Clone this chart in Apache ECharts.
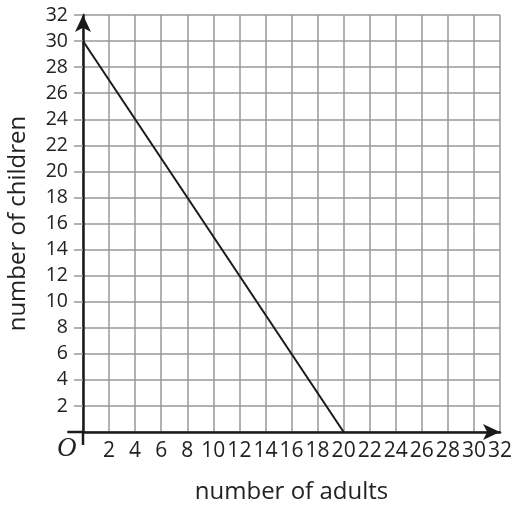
<!DOCTYPE html>
<html><head><meta charset="utf-8">
<script src="https://cdn.jsdelivr.net/npm/echarts@6/dist/echarts.min.js"></script>
<style>html,body{margin:0;padding:0;background:#fff}#c{width:521px;height:508px}</style>
</head><body><div id="c"></div>
<script>
const xTitle = 'number of adults';
const yTitle = 'number of children';
const lineX = [0, 20];
const lineY = [30, 0];
const axisMax = 32;
const tickStep = 2;
const xStub = [[-1.2, 0], [0, 0]];
const yStub = [[0, -1], [0, 0]];

const chart = echarts.init(document.getElementById('c'), null, {renderer: 'canvas'});
const font = '"Open Sans", sans-serif';
const lbl = v => (v === 0 ? '' : String(v));
const axisColor = '#1a1a1a';
chart.setOption({
  animation: false,
  grid: {left: 83, top: 15, width: 417, height: 417, containLabel: false, outerBoundsMode: 'none'},
  xAxis: {
    type: 'value', min: 0, max: axisMax, interval: tickStep,
    name: xTitle, nameLocation: 'middle', nameGap: 48,
    nameTextStyle: {fontFamily: font, fontSize: 24, color: '#222'},
    axisLine: {show: true, lineStyle: {color: axisColor, width: 2.5}, symbol: ['none', 'arrow'], symbolSize: [12, 17]},
    axisTick: {show: false},
    axisLabel: {formatter: lbl, fontFamily: font, fontSize: 21, color: '#222', margin: 9},
    splitLine: {show: true, lineStyle: {color: '#999', width: 1.5}}
  },
  yAxis: {
    type: 'value', min: 0, max: axisMax, interval: tickStep,
    name: yTitle, nameLocation: 'middle', nameGap: 53,
    nameTextStyle: {fontFamily: font, fontSize: 24, color: '#222'},
    axisLine: {show: true, lineStyle: {color: axisColor, width: 2.5}, symbol: ['none', 'arrow'], symbolSize: [12, 17]},
    axisTick: {show: true, length: 9, lineStyle: {color: '#999', width: 1.5}},
    axisLabel: {formatter: lbl, fontFamily: font, fontSize: 19.5, color: '#222', margin: 15},
    splitLine: {show: true, lineStyle: {color: '#999', width: 1.5}}
  },
  series: [{
    type: 'line', data: lineX.map((x, i) => [x, lineY[i]]),
    symbol: 'none', lineStyle: {color: axisColor, width: 2}, z: 5
  }]
});
const toPx = p => chart.convertToPixel({gridIndex: 0}, p);
const stubLine = pts => {
  const a = toPx(pts[0]), b = toPx(pts[1]);
  return {type: 'line', z: 100, shape: {x1: a[0], y1: a[1], x2: b[0], y2: b[1]},
    style: {stroke: axisColor, lineWidth: 2.5}};
};
const o = toPx([0, 0]);
chart.setOption({
  graphic: [stubLine(xStub), stubLine(yStub), {
    type: 'text', x: o[0] - 26, y: o[1] + 3, z: 100,
    style: {text: 'O', fontFamily: '"Liberation Serif", serif', fontStyle: 'italic', fontSize: 27, fill: '#222'}
  }]
});
</script></body></html>
